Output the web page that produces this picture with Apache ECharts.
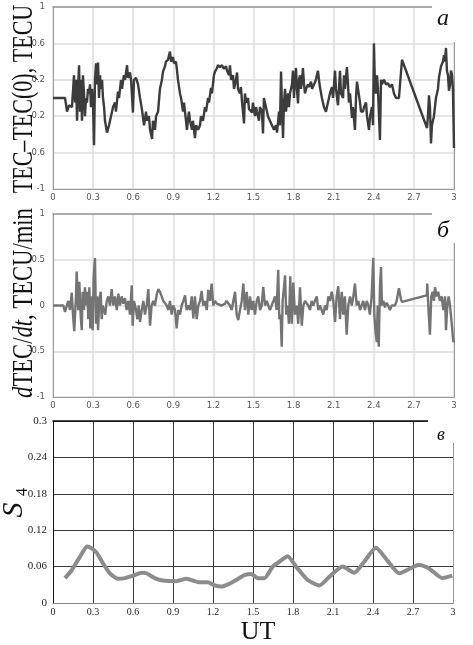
<!DOCTYPE html>
<html>
<head>
<meta charset="utf-8">
<script src="https://cdn.jsdelivr.net/npm/echarts@6/dist/echarts.min.js"></script>
<style>
  html, body { margin: 0; padding: 0; background: #fff; }
  #chart { width: 473px; height: 645px; }
</style>
</head>
<body>
<div id="chart"></div>
<script>
// UT axis, hours
const utMin = 0
const utMax = 3
const utStep = 0.3

// panel a: TEC - TEC(0), TECU
const tecTicks = [-1, -0.6, -0.2, 0.2, 0.6, 1]
const tecTime = [
    0, 0.090, 0.105, 0.120, 0.142, 0.157, 0.165, 0.172, 0.180, 0.187,
    0.195, 0.202, 0.209, 0.217, 0.224, 0.232, 0.239, 0.247, 0.254, 0.262,
    0.269, 0.277, 0.284, 0.292, 0.299, 0.307, 0.314, 0.322, 0.329, 0.337,
    0.344, 0.352, 0.359, 0.367, 0.374, 0.382, 0.389, 0.404, 0.419, 0.434,
    0.449, 0.464, 0.471, 0.486, 0.494, 0.509, 0.516, 0.531, 0.539, 0.554,
    0.561, 0.576, 0.584, 0.598, 0.606, 0.621, 0.636, 0.651, 0.666, 0.681,
    0.696, 0.703, 0.718, 0.726, 0.741, 0.748, 0.763, 0.771, 0.786, 0.800,
    0.815, 0.823, 0.838, 0.845, 0.860, 0.875, 0.883, 0.898, 0.905, 0.920,
    0.928, 0.935, 0.950, 0.958, 0.973, 0.980, 0.995, 1.002, 1.017, 1.025,
    1.040, 1.047, 1.062, 1.070, 1.085, 1.100, 1.107, 1.122, 1.137, 1.145,
    1.160, 1.167, 1.182, 1.189, 1.204, 1.212, 1.227, 1.234, 1.249, 1.264,
    1.279, 1.294, 1.302, 1.317, 1.324, 1.332, 1.347, 1.354, 1.369, 1.377,
    1.384, 1.399, 1.406, 1.414, 1.429, 1.436, 1.444, 1.459, 1.466, 1.474,
    1.489, 1.496, 1.511, 1.519, 1.526, 1.541, 1.548, 1.563, 1.571, 1.578,
    1.593, 1.608, 1.623, 1.638, 1.653, 1.668, 1.676, 1.691, 1.698, 1.706,
    1.713, 1.721, 1.728, 1.736, 1.743, 1.758, 1.765, 1.773, 1.788, 1.795,
    1.803, 1.810, 1.818, 1.825, 1.833, 1.840, 1.848, 1.855, 1.863, 1.870,
    1.878, 1.885, 1.893, 1.908, 1.915, 1.930, 1.938, 1.953, 1.967, 1.982,
    1.990, 1.997, 2.012, 2.027, 2.042, 2.057, 2.072, 2.087, 2.095, 2.110,
    2.117, 2.132, 2.147, 2.155, 2.170, 2.177, 2.184, 2.199, 2.207, 2.214,
    2.222, 2.237, 2.244, 2.259, 2.267, 2.274, 2.282, 2.297, 2.304, 2.319,
    2.327, 2.342, 2.349, 2.364, 2.372, 2.386, 2.394, 2.401, 2.409, 2.416,
    2.424, 2.431, 2.446, 2.454, 2.461, 2.476, 2.491, 2.506, 2.521, 2.536,
    2.551, 2.566, 2.588, 2.611, 2.798, 2.805, 2.813, 2.820, 2.828, 2.835,
    2.850, 2.865, 2.880, 2.888, 2.903, 2.918, 2.925, 2.932, 2.940, 2.947,
    2.955, 2.962, 2.970, 2.977, 2.985, 2.992, 3.000
]
const tecValue = [
    0, 0, -0.15, -0.08, -0.1, 0.25, -0.05, 0.2, -0.25, 0.1,
    0.36, -0.15, 0.2, -0.25, 0.25, 0.05, -0.2, 0, -0.05, 0.1,
    0.05, 0.15, -0.1, 0.1, -0.05, -0.52, 0.2, 0.38, 0.15, 0.39,
    0, 0.25, 0.1, 0.2, 0, -0.1, -0.25, -0.38, -0.3, -0.2,
    -0.1, -0.05, -0.15, 0.07, 0, 0.2, 0.1, 0.25, 0.2, 0.36,
    0.22, 0.28, 0.2, -0.16, 0.2, 0.22, 0.15, 0, -0.13, -0.3,
    -0.15, -0.25, -0.2, -0.35, -0.45, -0.25, -0.35, -0.2, -0.15, 0.1,
    0.2, 0.29, 0.35, 0.4, 0.42, 0.51, 0.4, 0.45, 0.38, 0.4,
    0.3, 0.2, 0.05, 0, -0.15, -0.05, -0.25, -0.35, -0.15, -0.25,
    -0.35, -0.25, -0.44, -0.3, -0.35, -0.3, -0.2, -0.25, -0.1, -0.15,
    0, -0.05, 0.11, 0.05, 0.25, 0.29, 0.33, 0.36, 0.34, 0.36,
    0.32, 0.35, 0.3, 0.25, 0.36, 0.2, 0.25, 0.1, 0.2, 0.28,
    0.1, 0.05, 0.12, -0.04, -0.28, 0.05, -0.05, 0, -0.12, -0.1,
    -0.16, -0.05, -0.2, -0.1, -0.15, -0.25, -0.1, -0.15, -0.39, 0,
    -0.1, -0.2, -0.25, -0.3, -0.35, -0.3, -0.38, -0.15, -0.3, 0.29,
    -0.1, -0.44, -0.05, 0.1, -0.15, 0.05, -0.1, 0.05, 0.15, 0.3,
    0, 0.2, 0.33, 0.1, -0.06, 0.2, 0.25, 0.1, 0.2, 0.33,
    0.15, 0.05, 0.1, 0.15, 0.12, 0.18, 0.1, 0.15, 0.2, 0.3,
    0.2, 0.12, 0, -0.1, -0.15, -0.05, 0.05, 0.12, 0, 0.3,
    0.1, -0.08, 0.3, 0.05, 0, 0.25, 0.1, 0.34, 0.15, -0.05,
    0.05, -0.22, -0.1, -0.35, 0, 0.18, 0.1, -0.05, -0.15, -0.15,
    -0.1, -0.05, -0.2, -0.35, -0.2, -0.1, -0.3, 0.6, 0.1, 0.05,
    0.25, 0.1, -0.46, 0.2, 0.15, 0.2, 0.15, 0.16, 0.12, 0.15,
    0.05, 0, 0, 0.42, -0.33, -0.2, 0.03, -0.1, -0.5, -0.3,
    -0.2, 0, 0.1, 0.23, 0.35, 0.4, 0.47, 0.4, 0.55, 0.3,
    0.25, 0.08, 0.14, 0.3, 0.26, 0.1, -0.55
]

// panel б: dTEC/dt, TECU/min
const rateTime = [
    0, 0.077, 0.090, 0.114, 0.127, 0.140, 0.152, 0.159, 0.172, 0.177,
    0.189, 0.197, 0.207, 0.215, 0.222, 0.232, 0.239, 0.247, 0.257, 0.264,
    0.272, 0.279, 0.290, 0.297, 0.304, 0.314, 0.322, 0.331, 0.337, 0.346,
    0.357, 0.364, 0.372, 0.382, 0.391, 0.402, 0.414, 0.426, 0.439, 0.451,
    0.464, 0.477, 0.489, 0.501, 0.514, 0.526, 0.539, 0.551, 0.563, 0.576,
    0.589, 0.596, 0.606, 0.621, 0.631, 0.641, 0.651, 0.664, 0.676, 0.688,
    0.701, 0.713, 0.726, 0.738, 0.750, 0.763, 0.776, 0.788, 0.800, 0.813,
    0.825, 0.838, 0.851, 0.863, 0.875, 0.888, 0.900, 0.913, 0.925, 0.937,
    0.950, 0.963, 0.975, 0.988, 1.000, 1.012, 1.025, 1.038, 1.050, 1.062,
    1.075, 1.087, 1.100, 1.112, 1.124, 1.137, 1.150, 1.162, 1.175, 1.187,
    1.199, 1.212, 1.225, 1.237, 1.262, 1.287, 1.299, 1.324, 1.337, 1.349,
    1.362, 1.374, 1.386, 1.399, 1.412, 1.424, 1.436, 1.449, 1.461, 1.474,
    1.486, 1.498, 1.511, 1.524, 1.536, 1.549, 1.561, 1.573, 1.586, 1.599,
    1.611, 1.623, 1.636, 1.649, 1.661, 1.673, 1.685, 1.693, 1.703, 1.711,
    1.718, 1.728, 1.736, 1.745, 1.756, 1.765, 1.775, 1.786, 1.798, 1.810,
    1.823, 1.835, 1.848, 1.861, 1.873, 1.885, 1.898, 1.910, 1.923, 1.935,
    1.947, 1.960, 1.973, 1.985, 1.997, 2.010, 2.022, 2.035, 2.048, 2.060,
    2.072, 2.085, 2.097, 2.110, 2.122, 2.134, 2.147, 2.160, 2.172, 2.184,
    2.197, 2.209, 2.222, 2.235, 2.247, 2.259, 2.272, 2.284, 2.297, 2.309,
    2.321, 2.334, 2.347, 2.359, 2.371, 2.384, 2.396, 2.404, 2.414, 2.422,
    2.429, 2.437, 2.446, 2.454, 2.461, 2.471, 2.484, 2.496, 2.508, 2.521,
    2.534, 2.546, 2.558, 2.571, 2.588, 2.603, 2.611, 2.796, 2.800, 2.811,
    2.820, 2.830, 2.841, 2.850, 2.858, 2.870, 2.882, 2.895, 2.908, 2.920,
    2.933, 2.940, 2.950, 2.960, 2.970, 2.983, 2.995, 3.000
]
const rateValue = [
    0, 0, -0.07, 0.05, -0.05, 0.14, -0.15, -0.28, 0.1, 0.37,
    -0.05, 0.26, -0.1, -0.27, 0.15, -0.05, 0.2, 0, 0.15, -0.15,
    0.2, -0.25, 0.1, -0.27, 0.3, 0.52, -0.2, 0.1, -0.27, 0.05,
    0.15, -0.15, 0, -0.05, -0.1, 0.05, 0.1, 0, 0.18, 0,
    0.1, -0.05, 0.13, 0, 0.1, 0.02, 0.08, -0.05, 0.05, -0.1,
    0.22, -0.22, 0.05, -0.05, -0.15, 0, -0.18, -0.05, 0.05, -0.1,
    0, 0.18, -0.22, 0, 0.05, 0, 0.12, 0.18, 0.15, 0.1,
    0.05, 0.05, 0, -0.05, 0.05, -0.1, 0, -0.05, -0.25, -0.05,
    -0.1, 0, 0.05, 0.11, -0.05, 0, -0.05, 0.1, -0.14, 0.1,
    -0.15, 0, 0.05, 0.16, 0, 0.05, -0.05, 0.17, 0.05, 0.24,
    0, 0.05, 0.02, 0, 0, 0.02, 0.05, 0, -0.05, 0.05,
    0.15, -0.1, -0.16, -0.05, 0.05, 0.24, -0.05, 0.15, -0.1, 0.1,
    -0.05, 0.05, -0.1, 0.05, 0.1, -0.05, 0, 0.2, 0, 0.05,
    0, -0.05, 0, 0.05, 0.1, -0.05, 0.39, -0.15, -0.1, -0.45,
    0.05, 0.2, 0.33, -0.1, 0, -0.2, 0.32, -0.2, 0.25, -0.1,
    0, -0.2, 0.2, -0.22, 0, 0.05, 0.05, 0, -0.05, 0.05,
    0, 0.05, 0.1, -0.05, 0, -0.05, -0.1, 0, -0.05, 0.1,
    0.05, 0.15, 0.05, -0.18, 0.1, 0.21, -0.15, 0.15, -0.1, 0.1,
    -0.32, 0, 0.1, 0, 0.1, 0.24, 0, 0.05, -0.05, 0,
    0.05, -0.05, 0.05, 0, -0.1, 0.1, 0.52, -0.1, -0.3, -0.4,
    0, -0.45, 0.2, 0.42, 0, 0.05, -0.02, 0.03, 0, -0.05,
    0, -0.02, 0, 0.05, 0.19, 0.07, 0.04, 0.11, 0.24, -0.1,
    -0.32, 0.1, 0.15, 0.05, 0.2, 0.1, 0.15, 0.05, 0.1, -0.05,
    0.1, -0.27, 0, 0.1, 0, -0.2, -0.4, -0.38
]

// panel в: S4
const s4Ticks = [0, 0.06, 0.12, 0.18, 0.24, 0.3]
const s4Time = [
    0.090, 0.140, 0.202, 0.257, 0.290, 0.327, 0.376, 0.426, 0.489, 0.539,
    0.601, 0.664, 0.701, 0.763, 0.825, 0.925, 1.000, 1.050, 1.100, 1.162,
    1.212, 1.262, 1.324, 1.374, 1.436, 1.486, 1.536, 1.586, 1.648, 1.698,
    1.760, 1.823, 1.910, 1.997, 2.072, 2.172, 2.259, 2.334, 2.422, 2.508,
    2.596, 2.671, 2.745, 2.820, 2.920, 2.995
]
const s4Value = [
    0.041, 0.054, 0.076, 0.093, 0.090, 0.083, 0.065, 0.049, 0.040, 0.041,
    0.045, 0.050, 0.049, 0.041, 0.037, 0.036, 0.040, 0.037, 0.034, 0.034,
    0.029, 0.027, 0.032, 0.038, 0.046, 0.048, 0.041, 0.041, 0.060, 0.068,
    0.077, 0.060, 0.038, 0.029, 0.043, 0.060, 0.050, 0.068, 0.091, 0.070,
    0.049, 0.056, 0.063, 0.057, 0.041, 0.045
]

const pairs = (ts, vs) => ts.map((t, i) => [t, vs[i]])

const serif = '"Liberation Serif", "DejaVu Serif", serif'
const sans = '"DejaVu Sans", sans-serif'

const grids = [
    {left: 53, top: 7, width: 401, height: 182},
    {left: 53, top: 214, width: 401, height: 183},
    {left: 53, top: 421, width: 400, height: 182}
]

// light gray style of the upper two panels
const lightLine = {color: '#dcdcdc', width: 1.5}
const lightLabel = {fontFamily: sans, fontSize: 8.5, color: '#555'}
// dark style of the S4 panel
const darkLine = {color: '#3a3a3a', width: 1}
const darkLabel = {fontFamily: serif, fontSize: 11, color: '#222'}

function bottomX(gridIndex, dark) {
    return {
        type: 'value', gridIndex, min: utMin, max: utMax, interval: utStep,
        axisLine: {show: true, onZero: false, lineStyle: {color: dark ? '#888' : '#999', width: 1}},
        axisTick: {show: false},
        axisLabel: Object.assign({margin: 4}, dark ? darkLabel : lightLabel, dark ? {fontSize: 10} : {}),
        splitLine: {show: true, lineStyle: dark ? darkLine : lightLine}
    }
}
function topX(gridIndex, color, width) {
    return {
        type: 'value', gridIndex, min: utMin, max: utMax, position: 'top',
        axisLine: {show: true, onZero: false, lineStyle: {color, width}},
        axisTick: {show: false}, axisLabel: {show: false}, splitLine: {show: false}
    }
}
function rightY(gridIndex) {
    return {
        type: 'value', gridIndex, position: 'right', min: 0, max: 1,
        axisLine: {show: true, onZero: false, lineStyle: {color: '#999', width: 1}},
        axisTick: {show: false}, axisLabel: {show: false}, splitLine: {show: false}
    }
}

const option = {
    animation: false,
    backgroundColor: '#fff',
    grid: grids,
    xAxis: [
        bottomX(0, false), topX(0, '#999', 1.5),
        bottomX(1, false), topX(1, '#999', 1.5),
        bottomX(2, true), topX(2, '#111', 1.5)
    ],
    yAxis: [
        {
            type: 'value', gridIndex: 0, min: -1, max: 1,
            axisLine: {show: true, onZero: false, lineStyle: {color: '#999', width: 1}},
            axisTick: {show: false, customValues: tecTicks},
            axisLabel: Object.assign({margin: 8, customValues: tecTicks}, lightLabel),
            splitLine: {show: true, lineStyle: lightLine}
        },
        rightY(0),
        {
            type: 'value', gridIndex: 1, min: -1, max: 1, interval: 0.5,
            axisLine: {show: true, onZero: false, lineStyle: {color: '#999', width: 1}},
            axisTick: {show: false},
            axisLabel: Object.assign({margin: 8}, lightLabel),
            splitLine: {show: true, lineStyle: lightLine}
        },
        rightY(1),
        {
            type: 'value', gridIndex: 2, min: 0, max: 0.3, interval: 0.06,
            axisLine: {show: true, onZero: false, lineStyle: {color: '#111', width: 1}},
            axisTick: {show: false},
            axisLabel: Object.assign({margin: 6}, darkLabel),
            splitLine: {show: true, lineStyle: darkLine}
        },
        rightY(2)
    ],
    series: [
        {
            type: 'line', xAxisIndex: 0, yAxisIndex: 0,
            data: pairs(tecTime, tecValue),
            showSymbol: false, z: 5,
            lineStyle: {color: '#3c3c3c', width: 2.4}
        },
        {
            type: 'line', xAxisIndex: 2, yAxisIndex: 2,
            data: pairs(rateTime, rateValue),
            showSymbol: false, z: 5,
            lineStyle: {color: '#747474', width: 2.4}
        },
        {
            type: 'line', xAxisIndex: 4, yAxisIndex: 4,
            data: pairs(s4Time, s4Value),
            showSymbol: false, smooth: 0.2, z: 5,
            lineStyle: {color: '#8c8c8c', width: 4}
        }
    ],
    graphic: [
        // open corners where the panel letters sit
        {type: 'rect', z: 100, shape: {x: 432, y: 0, width: 41, height: 42}, style: {fill: '#fff'}},
        {type: 'rect', z: 100, shape: {x: 432, y: 200, width: 41, height: 43}, style: {fill: '#fff'}},
        {type: 'rect', z: 100, shape: {x: 428, y: 412, width: 45, height: 31}, style: {fill: '#fff'}},
        {type: 'text', z: 101, x: 443, y: 19, style: {text: 'а', font: 'italic 24px ' + serif, fill: '#111', align: 'center', verticalAlign: 'middle'}},
        {type: 'text', z: 101, x: 443, y: 231, style: {text: 'б', font: 'italic 24px ' + serif, fill: '#111', align: 'center', verticalAlign: 'middle'}},
        {type: 'text', z: 101, x: 441, y: 435, style: {text: 'в', font: 'italic 18px ' + serif, fill: '#111', align: 'center', verticalAlign: 'middle'}},
        // axis titles
        {
            type: 'text', z: 101, x: 24, y: 99, rotation: Math.PI / 2, scaleX: 0.76,
            style: {text: 'TEC–TEC(0), TECU', font: '29px ' + serif, fill: '#111', align: 'center', verticalAlign: 'middle'}
        },
        {
            type: 'text', z: 101, x: 24, y: 303, rotation: Math.PI / 2, scaleX: 0.78,
            style: {
                text: '{i|d}TEC/{i|dt}, TECU/min', font: '29px ' + serif, fill: '#111',
                align: 'center', verticalAlign: 'middle',
                rich: {i: {fontStyle: 'italic', fontSize: 29, fontFamily: serif, fill: '#111'}}
            }
        },
        {
            type: 'text', z: 101, x: 14, y: 510, rotation: Math.PI / 2,
            style: {text: 'S', font: 'italic 30px ' + serif, fill: '#111', align: 'center', verticalAlign: 'middle'}
        },
        {
            type: 'text', z: 101, x: 23, y: 492, rotation: Math.PI / 2,
            style: {text: '4', font: '16px ' + serif, fill: '#111', align: 'center', verticalAlign: 'middle'}
        },
        {
            type: 'text', z: 101, x: 258, y: 632,
            style: {text: 'UT', font: '26px ' + serif, fill: '#111', align: 'center', verticalAlign: 'middle'}
        }
    ]
}

const chart = echarts.init(document.getElementById('chart'))
chart.setOption(option)
</script>
</body>
</html>
